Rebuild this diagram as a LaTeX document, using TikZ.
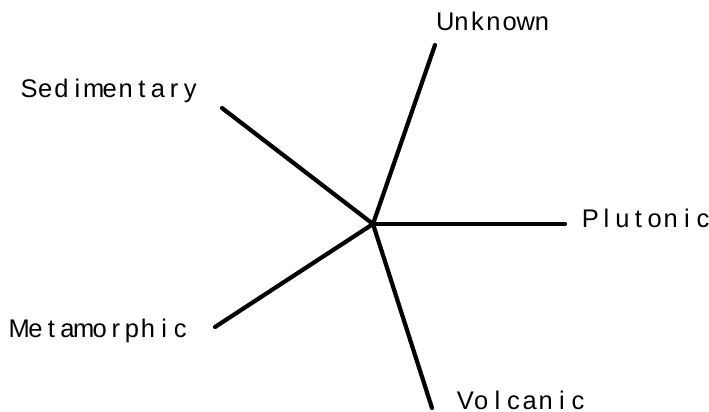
\documentclass[tikz,border=0pt]{standalone}
\usepackage{fontspec}
\setmainfont{Liberation Sans}
\newlength{\chw}
\setlength{\chw}{16.1pt}
\def\monoi#1{\ifx#1\relax\else\makebox[\chw][c]{#1}\expandafter\monoi\fi}
\def\monotext#1{\monoi#1\relax}
\begin{document}
\begin{tikzpicture}[x=1pt,y=-1pt,
  lbl/.style={anchor=base west,inner sep=0pt,font=\fontsize{25.5}{28}\selectfont},
  spoke/.style={line width=4.2pt,line cap=round}]
\useasboundingbox (0,0) rectangle (709,412);
\coordinate (c) at (373,224);
\coordinate (eU) at (435,45);
\coordinate (eS) at (222,108);
\coordinate (eP) at (565,224);
\coordinate (eM) at (215,327);
\coordinate (eV) at (432,408);
\node[lbl] (unknown) at (437,31) {\monotext{Unknown}};
\node[lbl] (sed) at (21,97) {\monotext{Sedimentary}};
\node[lbl] (plut) at (582,227) {\monotext{Plutonic}};
\node[lbl] (meta) at (11,337) {\monotext{Metamorphic}};
\node[lbl] (volc) at (457,409) {\monotext{Volcanic}};
\draw[spoke] (c) -- (eU);
\draw[spoke] (c) -- (eS);
\draw[spoke] (c) -- (eP);
\draw[spoke] (c) -- (eM);
\draw[spoke] (c) -- (eV);
\end{tikzpicture}
\end{document}
